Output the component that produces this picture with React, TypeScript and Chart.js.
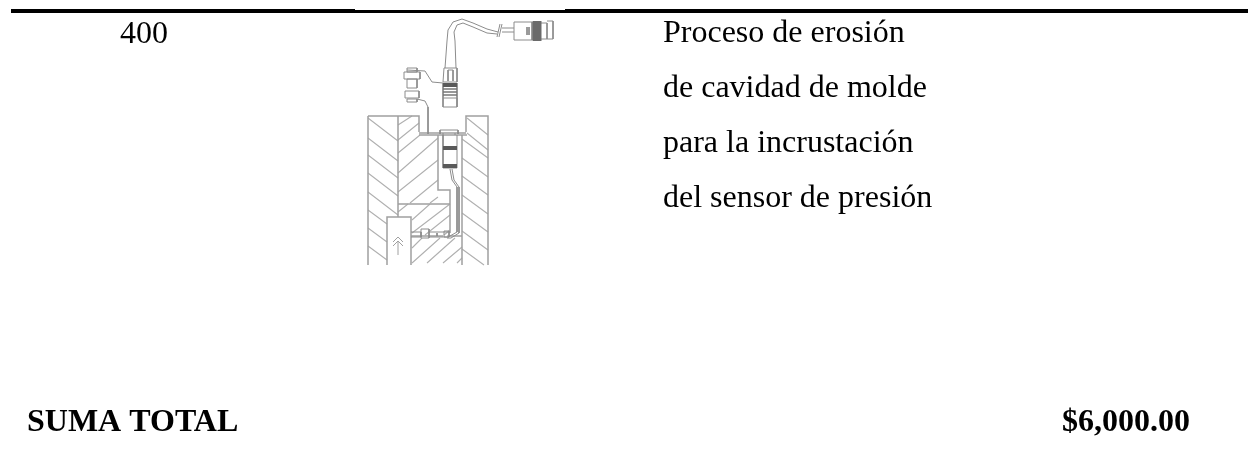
import React, { useEffect, useRef } from "react";
import { Chart, registerables } from "chart.js";

Chart.register(...registerables);

type Poly = number[];

const ruleLines: Poly[] = [[11, 11, 1248, 11]];
const ruleMask: Poly[] = [[355, 9.5, 565, 9.5]];

const cableLines: Poly[] = [
  [447, 41, 448, 30, 453, 22, 462, 19, 473, 23, 487, 29, 498, 32],
  [455, 41, 454, 32, 457, 25, 463, 23, 473, 27, 487, 33, 497, 34],
  [497, 37, 500, 24], [499, 37, 502, 24],
  [502, 28, 514, 28], [502, 32, 514, 32],
  [447, 41, 445, 68], [455, 41, 456, 68],
  [444, 68, 457, 68, 457, 82, 443, 82, 444, 68],
  [448, 70, 453, 70, 453, 81], [448, 70, 448, 81],
  [443, 107, 457, 107, 457, 98, 443, 98],
  [443, 83, 443, 107], [457, 83, 457, 107],
  [407, 70, 425, 71, 432, 82, 443, 83],
  [417, 99, 425, 101, 428, 107, 428, 134],
];

const bncLines: Poly[] = [
  [514, 22, 532, 22, 532, 40, 514, 40, 514, 22],
  [541, 23, 547, 23, 547, 39, 541, 39],
  [547, 21, 553, 21, 553, 39, 547, 39],
  [527, 27, 527, 35], [529, 27, 529, 35],
];

const sideConnectorLines: Poly[] = [
  [407, 68, 417, 68, 417, 72, 407, 72, 407, 68],
  [404, 72, 420, 72, 420, 79, 404, 79, 404, 72],
  [407, 79, 417, 79, 417, 88, 407, 88, 407, 79],
  [405, 91, 419, 91, 419, 98, 405, 98, 405, 91],
  [407, 99, 417, 99, 417, 102, 407, 102, 407, 99],
];

const moldWalls: Poly[] = [
  [368, 116, 419, 116, 419, 132],
  [466, 132, 466, 116, 488, 116, 488, 265],
  [368, 116, 368, 265],
  [398, 116, 398, 217],
  [419, 133, 466, 133],
  [419, 135, 467, 135],
  [462, 135, 462, 265],
  [438, 135, 438, 190, 450, 190, 450, 233],
  [398, 204, 450, 204],
  [387, 265, 387, 217, 411, 217, 411, 265],
  [411, 236, 443, 236], [450, 236, 462, 236],
];

const hatchLeft: Poly[] = [
  [368, 118, 398, 141], [368, 138, 398, 161], [368, 155, 398, 178], [368, 173, 398, 196],
  [368, 192, 398, 215], [368, 210, 387, 224], [368, 228, 387, 242], [368, 246, 387, 260],
];

const hatchCentre: Poly[] = [
  [398, 125, 412, 116], [398, 140, 419, 123], [398, 153, 420, 135], [398, 173, 438, 138],
  [398, 192, 438, 160], [410, 203, 438, 180], [430, 203, 438, 197],
];

const hatchLower: Poly[] = [
  [398, 212, 408, 204], [412, 220, 430, 204], [412, 233, 450, 204], [425, 235, 450, 215],
  [444, 235, 450, 230],
  [412, 248, 422, 238], [412, 263, 440, 238], [427, 263, 455, 238], [443, 263, 462, 247],
  [457, 263, 462, 258],
];

const hatchRight: Poly[] = [
  [467, 118, 488, 135], [467, 133, 488, 150], [462, 139, 488, 158], [462, 158, 488, 177],
  [462, 176, 488, 195], [462, 195, 488, 214], [462, 213, 488, 232], [462, 231, 488, 250],
  [462, 249, 484, 265],
];

const sensorLines: Poly[] = [
  [440, 130, 458, 130, 458, 134], [440, 130, 440, 134],
  [443, 135, 443, 133], [455, 135, 455, 133],
  [443, 135, 443, 168, 457, 168, 457, 135],
  [450, 169, 452, 180, 457, 187, 457, 232, 450, 236, 447, 236],
  [452, 169, 454, 180, 459, 187, 459, 233, 451, 238, 447, 238],
  [411, 232, 421, 232, 421, 237, 411, 237],
  [421, 229, 429, 229, 429, 238, 421, 238, 421, 229],
  [429, 232, 449, 232], [429, 237, 449, 237],
  [444, 231, 449, 231, 449, 237, 444, 237, 444, 231],
  [437, 233, 437, 236],
];

const sensorBands: Poly[] = [
  [443, 148, 457, 148], [443, 166, 457, 166],
  [443, 85, 457, 85],
];

const connectorRibs: Poly[] = [
  [443, 89, 457, 89], [443, 92, 457, 92], [443, 95, 457, 95],
];

const bncBand: Poly[] = [[534, 21, 534, 41], [537, 21, 537, 41], [540, 21, 540, 41]];

const arrowLines: Poly[] = [
  [398, 255, 398, 242], [393, 242, 398, 237, 403, 242], [393, 246, 398, 241, 403, 246],
];

const serifFont = '"Liberation Serif"';
const regularLabels = ["400", "Proceso de erosión", "de cavidad de molde", "para la incrustación", "del sensor de presión"];
const regularX = [120, 663, 663, 663, 663];
const regularY = [43, 42, 97, 152, 207];
const boldLabels = ["SUMA TOTAL", "$6,000.00"];
const boldX = [27, 1062];
const boldY = [431, 431];

function toPoints(polys: Poly[]) {
  const points: { x: number; y: number }[] = [];
  polys.forEach((p) => {
    for (let i = 0; i < p.length; i += 2) points.push({ x: p[i], y: p[i + 1] });
    points.push({ x: NaN, y: NaN });
  });
  return points;
}

function layer(polys: Poly[], color: string, width: number, order: number) {
  return {
    data: toPoints(polys),
    showLine: true,
    borderColor: color,
    borderWidth: width,
    pointRadius: 0,
    spanGaps: false,
    order,
  };
}

const textPlugin = {
  id: "pageText",
  afterDatasetsDraw(chart: any) {
    const { ctx, scales } = chart;
    ctx.save();
    ctx.fillStyle = "#000";
    ctx.textBaseline = "alphabetic";
    ctx.textAlign = "left";
    ctx.font = `32px ${serifFont}`;
    regularLabels.forEach((t, i) => {
      ctx.fillText(t, scales.x.getPixelForValue(regularX[i]), scales.y.getPixelForValue(regularY[i]));
    });
    ctx.font = `bold 32px ${serifFont}`;
    boldLabels.forEach((t, i) => {
      ctx.fillText(t, scales.x.getPixelForValue(boldX[i]), scales.y.getPixelForValue(boldY[i]));
    });
    ctx.restore();
  },
};

export default function App() {
  const ref = useRef<HTMLCanvasElement>(null);
  useEffect(() => {
    const chart = new Chart(ref.current!, {
      type: "scatter",
      data: {
        datasets: [
          layer(ruleMask, "#ffffff", 1, 0),
          layer(bncBand, "#6a6a6a", 3, 1),
          layer(sensorBands, "#5a5a5a", 4, 1),
          layer(connectorRibs, "#777777", 1.5, 1),
          layer(cableLines, "#8c8c8c", 1, 2),
          layer(bncLines, "#8c8c8c", 1, 2),
          layer(sideConnectorLines, "#8c8c8c", 1, 2),
          layer(sensorLines, "#8c8c8c", 1, 2),
          layer(arrowLines, "#a0a0a0", 1, 2),
          layer(moldWalls, "#a0a0a0", 1.5, 3),
          layer(hatchLeft, "#b0b0b0", 1.1, 4),
          layer(hatchCentre, "#b0b0b0", 1.1, 4),
          layer(hatchLower, "#b0b0b0", 1.1, 4),
          layer(hatchRight, "#b0b0b0", 1.1, 4),
          layer(ruleLines, "#000000", 4, 5),
        ] as any,
      },
      options: {
        responsive: false,
        animation: false,
        layout: { padding: 0 },
        plugins: { legend: { display: false }, tooltip: { enabled: false } },
        scales: {
          x: { type: "linear", min: 0, max: 1248, display: false },
          y: { type: "linear", min: 0, max: 452, reverse: true, display: false },
        },
      },
      plugins: [textPlugin],
    });
    return () => chart.destroy();
  }, []);
  return (
    <canvas
      ref={ref}
      width={1248}
      height={452}
      style={{ position: "fixed", left: 0, top: 0, width: 1248, height: 452, background: "#fff" }}
    />
  );
}
